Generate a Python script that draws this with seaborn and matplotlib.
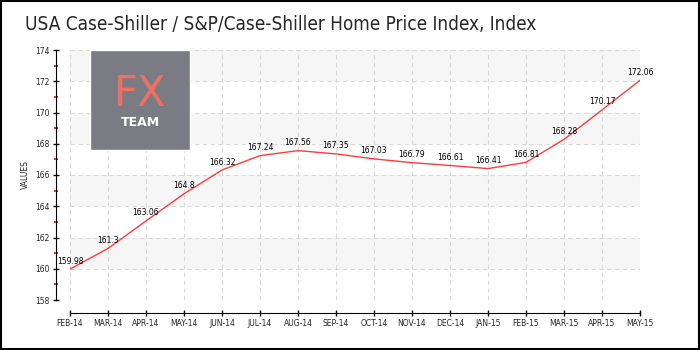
import numpy as np
import pandas as pd
import matplotlib
matplotlib.use("Agg")
import matplotlib.pyplot as plt
import seaborn as sns
from matplotlib.patches import Rectangle

# === DATA ===
months = ["FEB-14", "MAR-14", "APR-14", "MAY-14", "JUN-14", "JUL-14", "AUG-14", "SEP-14",
          "OCT-14", "NOV-14", "DEC-14", "JAN-15", "FEB-15", "MAR-15", "APR-15", "MAY-15"]
values = [159.98, 161.3, 163.06, 164.8, 166.32, 167.24, 167.56, 167.35,
          167.03, 166.79, 166.61, 166.41, 166.81, 168.28, 170.17, 172.06]
y_ticks = [158, 160, 162, 164, 166, 168, 170, 172, 174]

sns.set_style("white")
plt.rcParams['font.family'] = ['DejaVu Sans']

df = pd.DataFrame({"pos": range(len(months)), "value": values})

fig = plt.figure(figsize=(7, 3.5), dpi=100)
ax = fig.add_axes([70 / 700, 1 - 300 / 350, 570 / 700, 250 / 350])

# alternating bands
for lo in [160, 164, 168, 172]:
    ax.axhspan(lo, lo + 2, color="#f6f6f6", zorder=0, lw=0)

sns.lineplot(data=df, x="pos", y="value", ax=ax, color="#ff3b3b", lw=1, zorder=3)

for i, v in enumerate(values):
    ax.annotate(f"{v:g}", (i, v), xytext=(0, 2.5), textcoords="offset points",
                ha="center", va="bottom", fontsize=5.5, color="black", zorder=4)

ax.set_xlim(0, len(months) - 1)
ax.set_ylim(158, 174)
ax.set_xticks(range(len(months)))
ax.set_xticklabels(months)
ax.set_yticks(y_ticks)
ax.set_yticklabels([str(t) for t in y_ticks])
ax.set_yticks(np.arange(159, 174, 2), minor=True)
ax.set_xlabel("")
ax.set_ylabel("VALUES", fontsize=5.5, labelpad=4)

ax.grid(True, which="major", color="#d9d9d9", ls=(0, (4, 3)), lw=0.8, zorder=1)
ax.set_axisbelow(True)

for s in ["top", "right"]:
    ax.spines[s].set_visible(False)
ax.spines["left"].set_position(("outward", 10))
ax.spines["bottom"].set_position(("outward", 9))
ax.spines["left"].set_color("black")
ax.spines["bottom"].set_color("black")
ax.tick_params(axis="both", which="major", direction="inout", length=5, width=1,
               color="black", pad=2, labelsize=5.5, bottom=True, left=True)
ax.tick_params(axis="y", which="minor", direction="inout", length=3.5, width=1.2,
               color="red", left=True)

# logo
fig.patches.append(Rectangle((90 / 700, 1 - 150 / 350), 100 / 700, 100 / 350,
                             transform=fig.transFigure, facecolor="#7b7b83", zorder=5))
fig.text(140 / 700, 1 - 94 / 350, "FX", ha="center", va="center", fontsize=30,
         color="#f07060", zorder=6)
fig.text(140 / 700, 1 - 122 / 350, "TEAM", ha="center", va="center", fontsize=9,
         fontweight="bold", color="white", zorder=6)

fig.text(25 / 700, 1 - 24 / 350, "USA Case-Shiller / S&P/Case-Shiller Home Price Index, Index",
         ha="left", va="center", fontsize=13.6, family="DejaVu Sans", fontstretch="condensed")

# border
fig.patches.append(Rectangle((0.001, 0.002), 0.997, 0.996, transform=fig.transFigure,
                             fill=False, edgecolor="black", lw=1.5))

fig.savefig("out.png", dpi=100)
